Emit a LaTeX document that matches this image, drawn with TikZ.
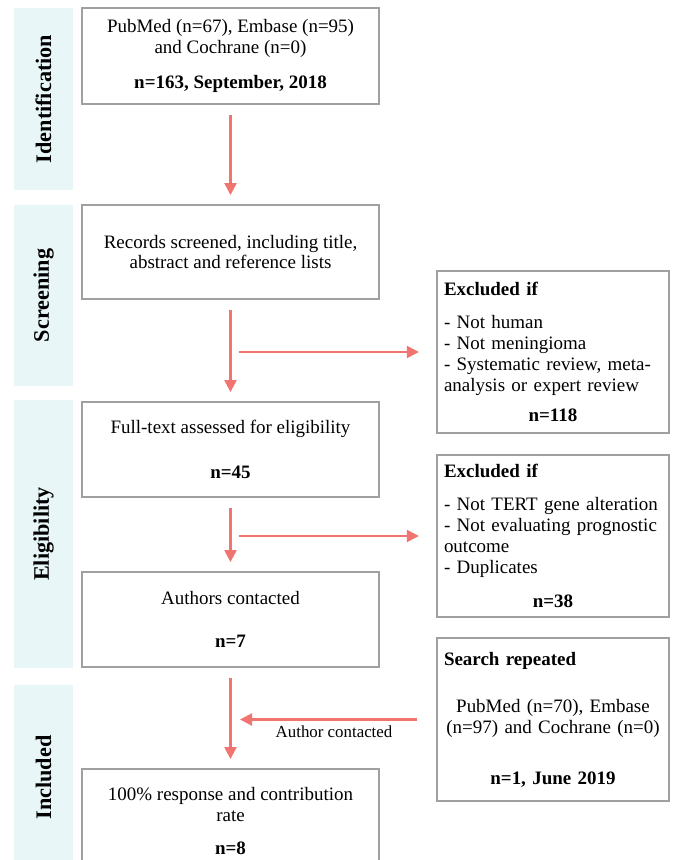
\documentclass[tikz,border=0pt]{standalone}
\usepackage{fontspec}
\setmainfont{Liberation Serif}
\usetikzlibrary{arrows.meta}
\definecolor{bandblue}{HTML}{E8F6F8}
\definecolor{boxgray}{HTML}{A0A0A0}
\definecolor{arrowred}{HTML}{F07470}

\begin{document}
\begin{tikzpicture}[
        box/.style={draw=boxgray, line width=1.6pt, align=center, inner sep=0pt, minimum width=7.425cm, font=\fontsize{13.5}{14.9}\selectfont},
        sidebox/.style={draw=boxgray, line width=1.6pt, align=left, text width=5.45cm, inner xsep=0.175cm, inner ysep=0pt, minimum height=4.05cm, font=\fontsize{13.5}{14.9}\selectfont},
        band/.style={fill=bandblue, rotate=90, minimum height=1.475cm, inner sep=0pt, font=\fontsize{15.8}{18}\selectfont\bfseries},
        arr/.style={draw=arrowred, line width=1.6pt, -{Triangle[length=0.3cm,width=0.3cm]}, shorten <=0.25cm, shorten >=0.22cm}
    ]
        \useasboundingbox (0,0) rectangle (16.875,-21.5);
        \clip (0,0) rectangle (16.875,-21.5);
        \node[band, minimum width=4.55cm] (I) at (1.0875,-2.475) {Identification};
        \node[band, minimum width=4.525cm] (J) at (1.0875,-7.3875) {Screening};
        \node[band, minimum width=6.7cm] (K) at (1.0875,-13.35) {Eligibility};
        \node[band, minimum width=4.625cm] (L) at (1.0875,-19.4375) {Included};
        \node[box, minimum height=2.4cm] (A) at (5.7625,-1.4) {PubMed (n=67), Embase (n=95)\\and Cochrane (n=0)\\[10pt]\textbf{n=163, September, 2018}};
        \node[box, minimum height=2.35cm] (B) at (5.7625,-6.3) {Records screened, including title,\\abstract and reference lists};
        \node[box, minimum height=2.375cm] (C) at (5.7625,-11.2375) {Full-text assessed for eligibility\\[17.5pt]\textbf{n=45}};
        \node[box, minimum height=2.375cm] (D) at (5.7625,-15.4875) {Authors contacted\\[15.5pt]\textbf{n=7}};
        \node[box, minimum height=2.6cm] (E) at (5.7625,-20.525) {100\% response and contribution\\rate\\[9pt]\textbf{n=8}};
        \node[sidebox] (F) at (13.825,-8.8) {\textbf{Excluded if}\\[9pt]- Not human\\- Not meningioma\\- Systematic review, meta-\\analysis or expert review\\[6.5pt]\hfill\textbf{n=118}\hfill\null};
        \node[sidebox] (G) at (13.825,-13.4) {\textbf{Excluded if}\\[8.5pt]- Not TERT gene alteration\\- Not evaluating prognostic\\outcome\\- Duplicates\\[9pt]\hfill\textbf{n=38}\hfill\null};
        \node[sidebox, minimum height=4.075cm] (H) at (13.825,-17.9875) {\textbf{Search repeated}\\[19pt]\hfill PubMed (n=70), Embase\hfill\null\\\hfill(n=97) and Cochrane (n=0)\hfill\null\\[21pt]\hfill\textbf{n=1, June 2019}\hfill\null};
        \coordinate (p) at (5.975,-8.8);
        \coordinate (q) at (5.975,-13.4);
        \coordinate (r) at (6.0,-17.9875);
        \draw[arr] (A) -- (B);
        \draw[arr] (B) -- (C);
        \draw[arr] (C) -- (D);
        \draw[arr] (D) -- (E);
        \draw[arr, shorten <=0pt, shorten >=0.425cm] (p) -- (F);
        \draw[arr, shorten <=0pt, shorten >=0.425cm] (q) -- (G);
        \draw[arr, shorten <=0.475cm, shorten >=0pt] (H) -- node[pos=0.52, below, font=\fontsize{12}{14}\selectfont] (M) {Author contacted} (r);
    \end{tikzpicture}
\end{document}
